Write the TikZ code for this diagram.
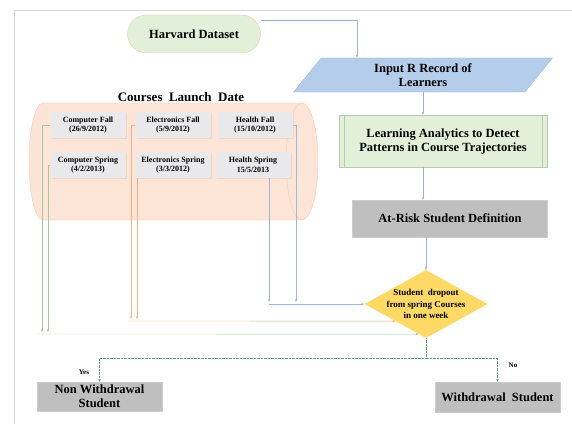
\documentclass[tikz,border=0pt]{standalone}
\usepackage{fontspec}
\setmainfont{Liberation Serif}
\usetikzlibrary{shapes.geometric,arrows.meta,shadows,calc}
\definecolor{framegray}{HTML}{D9D9D9}
\definecolor{palegreen}{HTML}{E2EFD9}
\definecolor{tanline}{HTML}{E3D3A3}
\definecolor{inputblue}{HTML}{B4CDEA}
\definecolor{inputline}{HTML}{9DB7DB}
\definecolor{sageline}{HTML}{B7C9AE}
\definecolor{stepgray}{HTML}{BFBFBF}
\definecolor{gold}{HTML}{FFD966}
\definecolor{coursegray}{HTML}{E9E9EB}
\definecolor{peach}{HTML}{FCE4D6}
\definecolor{peachline}{HTML}{F8CBAD}
\definecolor{flowline}{HTML}{9DB2D0}
\definecolor{compline}{HTML}{A8C69A}
\definecolor{elecline}{HTML}{F4B183}
\definecolor{healthline}{HTML}{9DB7DB}
\definecolor{yesno}{HTML}{5C9C8C}
\begin{document}
\begin{tikzpicture}[x=1pt,y=1pt,
        every node/.style = {font=\bfseries},
        big/.style = {font=\bfseries\fontsize{12.5}{14}\selectfont, align=center, inner sep=0pt},
        course/.style = {fill=coursegray, font=\bfseries\fontsize{8}{9.5}\selectfont, align=center,
            minimum width=75, minimum height=26, inner sep=0pt,
            drop shadow={opacity=0.12, shadow xshift=1pt, shadow yshift=-1pt}},
        greybox/.style = {big, fill=stepgray, draw=stepgray!80!white, minimum height=30},
        flow/.style = {draw=flowline, -{Stealth[length=3pt,width=2.5pt]}},
        comp/.style = {draw=compline, -{Stealth[length=3pt,width=2.5pt]}},
        elec/.style = {draw=elecline, -{Stealth[length=3pt,width=2.5pt]}},
        health/.style = {draw=healthline, -{Stealth[length=3pt,width=2.5pt]}},
        branch/.style = {draw=yesno, densely dotted, -{Stealth[length=3pt,width=2.5pt]}},
        thin
    ]
        \useasboundingbox (0,0) rectangle (572,424);
        \draw[framegray, line width=0.8pt] (572,414) -- (14,414) -- (14,0);

        \fill[peach, draw=peachline] (43,321) -- (302,321) arc (90:-90:16 and 58.5)
            -- (43,204) arc (270:90:14 and 58.5) -- cycle;
        \draw[peachline] (302,321) arc (90:270:16 and 58.5);
        \node[font=\bfseries\fontsize{13}{15}\selectfont] (title) at (181,327) {Courses\ \ Launch\ \ Date};

        \node[big, draw=tanline, fill=palegreen, rounded corners=19, minimum width=133, minimum height=38] (harvard) at (194,390) {Harvard Dataset};
        \node[big, trapezium, trapezium left angle=60, trapezium right angle=120, trapezium stretches=true,
            draw=inputline, fill=inputblue, minimum width=259, minimum height=34] (input) at (423,349) {Input R Record of\\Learners};
        \node[big, draw=sageline, fill=palegreen, minimum width=208, minimum height=52] (analytics) at (443,283)
            {Learning Analytics to Detect\\Patterns in Course Trajectories};
        \draw[sageline] ([xshift=5]analytics.north west) -- ([xshift=5]analytics.south west);
        \draw[sageline] ([xshift=-5]analytics.north east) -- ([xshift=-5]analytics.south east);
        \node[greybox, minimum width=195, minimum height=37] (atrisk) at (450,205.5) {At-Risk Student Definition};
        \node[diamond, fill=gold, minimum width=123, minimum height=68, inner sep=0pt,
            label={[align=center, font=\bfseries\fontsize{9}{11.5}\selectfont]center:Student\ \ dropout\\from spring Courses\\in one week}] (dia) at (426,120) {};
        \node[greybox, minimum width=125, minimum height=29] (nonw) at (99.5,27.5) {Non Withdrawal\\Student};
        \node[greybox, minimum width=125, minimum height=30] (withd) at (497.5,27) {Withdrawal\ \ Student};

        \node[course] (cf) at (88,299) {Computer Fall\\(26/9/2012)};
        \node[course] (ef) at (173,299) {Electronics Fall\\(5/9/2012)};
        \node[course] (hf) at (255,299) {Health Fall\\(15/10/2012)};
        \node[course] (cs) at (88,259) {Computer Spring\\(4/2/2013)};
        \node[course] (es) at (173,259) {Electronics Spring\\(3/3/2012)};
        \node[course] (hs) at (253,259) {Health Spring\\15/5/2013};

        \draw[flow] ([yshift=-5]harvard.north east) -| (input.north -| 357,0);
        \draw[flow] (input.south -| 423,0) -- (analytics.north -| 423,0);
        \draw[flow] (analytics.south -| 423,0) -- (atrisk.north -| 423,0);
        \draw[flow] (atrisk.south -| dia.north) -- (dia.north);

        \coordinate (ctip1) at (42,92);
        \coordinate (ctip2) at (48,92);
        \coordinate (cbus) at (37,90);
        \coordinate (etip1) at (131,105);
        \coordinate (etip2) at (137,105);
        \coordinate (ebus) at (128,103);
        \coordinate (htip1) at (269,122);
        \coordinate (htip2) at (296,122);

        \draw[comp] (cf.west) -| (ctip1);
        \draw[comp] (cs.west) -| (ctip2);
        \draw[comp] (cbus) -- ($(dia.west)!0.88!(dia.south)$);
        \draw[elec] (ef.west) -| (etip1);
        \draw[elec] (es.south -| etip2) -- (etip2);
        \draw[elec] (ebus) -- (dia.south west);
        \draw[health] (hf.east) -| (htip2);
        \draw[health] (hs.south -| htip1) -- (htip1);
        \draw[health] (dia.west -| htip1) -- (dia.west);

        \draw[branch] (dia.south) -- ++(0,-20) -| (nonw.north);
        \draw[branch] (dia.south) -- ++(0,-20) -| (withd.north);
        \node[font=\bfseries\fontsize{7}{8}\selectfont] (yes) at (84,52) {Yes};
        \node[font=\bfseries\fontsize{7}{8}\selectfont] (no) at (513,59) {No};
    \end{tikzpicture}
\end{document}
